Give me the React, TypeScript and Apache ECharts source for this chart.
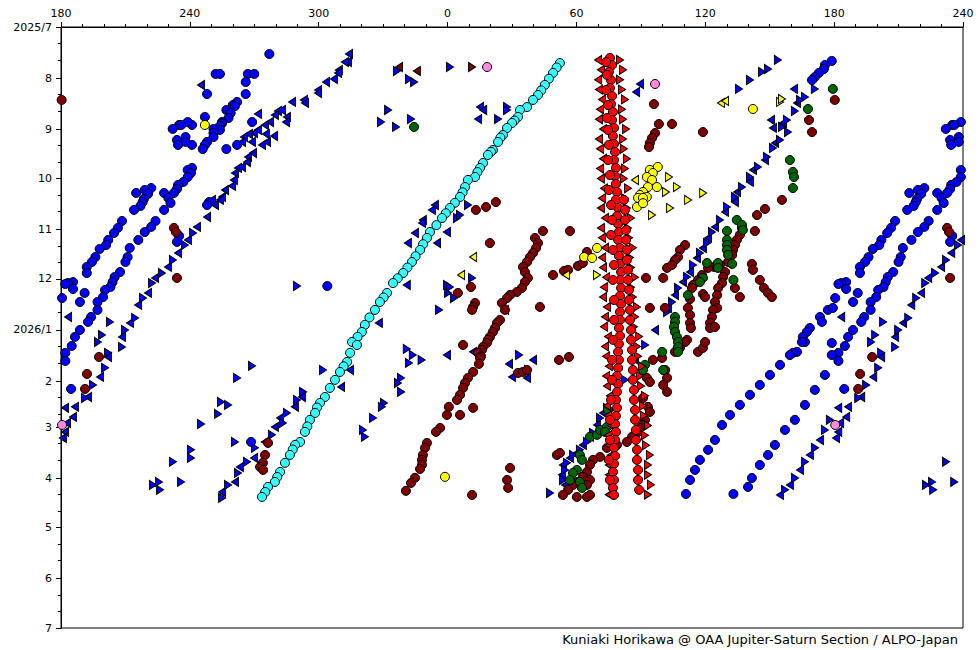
import React, { useEffect, useRef } from "react";
import * as echarts from "echarts";

// ---- axis definitions ----
const monthStarts = [0, 31, 62, 92, 123, 153, 184, 215, 243, 274, 304, 335, 365];
const monthLabels = ["2025/7", "8", "9", "10", "11", "12", "2026/1", "2", "3", "4", "5", "6", "7"];
const minorDays = [10, 20, 41, 51, 72, 82, 102, 112, 133, 143, 163, 173, 194, 204, 225, 235, 253, 263, 284, 294, 314, 324, 345, 355];

// ---- data: [System II longitude (deg), days since 2025-07-01] ----
const blueCircles = [
  [277,16.4],[252,28.5],[254,28.5],[267,28.5],[270,28.5],[266,33.4],[248,40.7],[266,40.7],[262,45.5],[260,47.4],[261,48],[257,50.4],[259,52.2],[258,55.3],[255,57.7],[255,58.5],[254,60.1],[254,62.5],[251,61.9],[251,64.4],[251,66.8],[248,69.8],[247,71.7],[246,74.1],[247,54.6],[241,59.5],[239,57.7],[235,59.5],[236,59.5],[232,61.9],[238,66.8],[234,68.6],[238,69.8],[234.5,71.6],[241,71.6],[269,57.7],[262,71.6],[257,74.1],
  [241,85.6],[239,86.8],[240.5,88.7],[239,91.1],[237,94.1],[234.5,95.9],[234,98.4],[232.6,100.8],[228,100.8],[222,97.8],[219,99],[220.5,101.4],[215,100.8],[218.6,104.4],
  [230,103.8],[231,106.9],[228,111.1],[218,106.3],[217,108.7],[214,111.1],[224,117.8],[222,121.4],[219,124.5],[216,129.3],
  [212,134.2],[211,139.7],[210,142.7],[207.5,148.8],[205,151.8],[204,154.9],[203,157.9],[200.5,159.7],[199.6,164],[197,167],[197,171.8],[194,176.1],[192.6,179.1],
  [208.4,117.8],[206.5,122],[204.7,125.1],[202,129.3],[201,132.4],[198,134.8],[196,139.7],[194.4,142.7],[192,145.7],[192,149.4],[185.6,154.9],[183.3,155.5],[182,156.1],[185.6,159.1],[180.5,164.6],[191,161.5],[188.8,167],
  [249,106.3],[248,108.1],[235,126.9],[234,130.5],[304,157.3],
  [182,197.9],[182,202.8],[185,193.7],[184.7,219.8],[268.5,252],[186.5,188.2],[188.8,184],
  [178.9,20.6],[175.7,23.1],[175.2,25.5],[172.9,27.9],[171,30.4],[169.7,32.2],
  [177.1,171.8],[179.4,170.6],[173.4,176.1],[174.3,179.1],[168.7,182.8],[167.3,185.2],[165.4,188.2],[166.4,191.3],[165,191.3],[162.7,197.3],[160.8,197.9],[159.4,199.2],[178.9,191.9],[178.9,199.2],
  [154.8,205.2],[150.1,211.3],[145.4,217.4],[140.8,223.4],[136.1,229.5],[131.5,235.6],[127.8,241.7],[124.5,250.8],[121.3,256.8],[117.5,262.9],[115.2,269],[112.9,275.1],[111,283.6],
  [175.7,211.3],[171,220.4],[166.4,229.5],[161.7,238.6],[157.1,244.7],[152.4,253.8],[149.2,259.9],[145.4,266],[141.7,273.9],[139.9,279.3],[133.1,283.6],
];

const blueTriLeft = [
  [245.2,35.2],[314.1,16.4],[313.6,21.3],[312.2,21.3],[309.4,26.1],[309,27.9],[307.1,31.6],[303.4,33.4],[299.7,38.3],[299.7,40.1],[293.1,44.3],[293.6,46.1],[287.6,45.5],[285.2,54.6],[284.8,57.7],[282.9,50.4],[281,51],[279.6,53.4],[277.3,57.7],[275,59.5],[271.7,52.8],[271.7,62.5],[269.9,64.4],[267.5,65],[265.2,66.8],[264.3,69.8],[279.2,66.2],[275.9,69.8],[273.6,71.6],[275.4,65],[268.9,69.8],[269.4,76.5],[267.1,78.9],[266.6,82],[264.3,85],[262.4,85.6],[261,88.7],[260.5,92.9],[259.6,96.5],[256.4,99],[255,103.2],[250.3,105],
  [254,105],[251.7,108.1],[248,115.4],[243.3,121.4],[239.1,129.3],[234.5,137.2],[229.8,145.7],[223.8,152.4],[220.5,161.5],[215.9,168.8],[212.1,179.7],[208.4,188.2],
  [183.3,176.1],[201.9,200.4],[198.2,212.5],[192.6,224.7],[186.5,230.7],[181.9,231.3],[185.6,236.8],[182.8,240.5],[181.9,245.9],[180.9,249.6],
  [354.1,108.1],[352.7,111.1],[348.5,117.2],[348.1,119],[344.8,125.1],[341.5,131.2],[355.1,131.2],[359.7,124.5],[341,156.7],[328,179.7],[26.8,171.8],[359.7,199.2],[11.9,197.3],[28.6,204.6],[30,212.5],[39.8,202.2],[37,213.1],[314.6,208.3],[310.4,218.6],[15.1,48.6],[16.6,50.4],[14.2,55.9],[89.6,34.6],[87.8,39.5],
  [292.2,224.7],[288.9,230.7],[282,237.4],[279.6,242.9],[274.9,252],[269.9,261.7],[263.3,267.2],[261,276.3],[255,282.4],
  [161.3,37.6],[150.6,56.5],[151.5,61.3],[162.7,46.1],[156.2,58.3],[152.5,70.4],[147.8,80.8],[142.2,86.8],[140.8,94.1],[134.8,100.2],
  [133.8,106.3],[129.2,112.3],[124.5,121.4],[121.3,128.1],[118.9,134.2],[116.1,140.3],[112.9,148.8],[109.6,154.9],[105.9,162.8],[102.6,170.6],[96.6,184],[87.3,202.2],[78,223.4],[72.4,234.4],[69.6,241.7],[66.3,248.9],[63,253.8],[60.2,258.7],[57,261.7],[53.7,266],[53.3,272],[54.7,278.1],
  [173.4,250.8],[168.7,259.9],[164.1,269],[159.4,278.1],[154.8,284.2],
];

const blueTriRight = [
  [241.5,125.1],[237.7,132.4],[232.1,141.5],[227,149.4],[222.4,155.5],[218.2,164.6],[214.5,176.7],[209.8,184],[208.4,194.3],[202.8,179.1],[199.1,187],[197.2,191.3],[201.9,197.9],[200.5,207],[194.9,217.4],[191.2,225.3],
  [336.4,26.7],[1.1,24.3],[342,31.6],[344.4,33.4],[332.3,50.4],[329,57.7],[336,60.7],[343,55.9],[27.7,48.6],[27.7,50.4],[23.5,55.9],[289.9,157.3],[4.4,116],[5.8,114.2],[9.5,108.1],[359.7,156.7],[1.1,157.9],[0.2,161.5],[3,164.6],[11.4,152.4],[356,171.8],[33.3,199.2],[37.4,208.3],[341,195.5],[343.8,199.2],[347.9,202.2],[342,204],[338.3,213.1],[336.9,216.2],[338.3,221.6],[330.4,228.3],[329.4,230.7],[325.3,237.4],[320.6,244.7],[321.5,248.9],[302,208.3],
  [268.9,205.8],[262,213.1],[254.5,227.7],[257.8,229.5],[253.1,235],[245.2,241.1],[240.5,256.8],[240.5,261.7],[232.1,264.1],[222.8,278.1],[225.6,276.3],[226.1,281.1],[235.9,276.3],[261,252],
  [292.7,221.6],[289.9,226.5],[285.2,234.4],[283.3,240.5],[278.2,247.7],[270.3,255.6],[266.6,264.1],[262.4,270.8],[257.8,278.1],[255,286],
  [153.8,20],[149.2,25.5],[146.4,27.3],[140.8,32.2],[135.7,37.6],[171,37.6],[166.4,42.5],[164.1,44.3],[161.7,51],[158,56.5],[155.7,60.7],[158.5,63.8],[154.8,68.6],[151.5,73.5],[148.7,78.9],[144.5,85],[140.8,91.1],[137.1,97.2],[133.8,103.2],
  [130.1,109.3],[126.8,117.2],[123.1,124.5],[120.8,131.2],[117.5,137.2],[114.3,144.6],[111.5,151.8],[107.3,158.5],[104.5,167],[102.2,173.1],[92,193.1],[82.6,214.3],[74.2,231.3],[71,237.4],[67.7,246.5],[64.9,252],[61.6,256.8],[58.4,259.9],[55.6,264.7],[54.7,269],[53.7,275.1],[47.7,283],
  [178,238.6],[175.7,244.7],[171.1,255.6],[166.4,264.1],[161.8,273.9],[157.1,281.1],
];

const cyanCircles = [
  [52.3,21.9],[50.8,24.6],[49.1,27.9],[47.2,31.4],[45.3,35.2],[43.6,38.5],[42.1,41.3],[39.8,44.3],[37,48.6],[33.7,50.4],[32.8,54.6],[31.2,56.8],[30,58.3],[27.7,61.3],[25.8,65.6],[24.6,67.2],[23.5,69.8],[21.1,74.7],[20.2,75.8],[18.8,77.7],[16.5,82.6],[15.1,85.6],[13.9,88.1],[12.8,91.1],[9.5,92.9],[8.1,97.2],[7.0,100.4],[5.8,103.2],
  [3.4,106.8],[1.1,109.9],[359.2,113.1],[357.4,116],[354.8,120.3],[351.8,124.5],[350.4,128.1],[348.6,131.9],[347.2,135.4],[345.1,139.2],[343.4,142.7],[341.3,146.1],[339.3,149.4],[336.8,152.6],[334.6,155.5],[331.8,161.5],[330.2,164.3],[328.5,167],[326.2,171.8],[323.6,176.4],[321.5,180.9],[320.1,185.2],[318.1,188.2],[315.5,191.3],[317.8,193.1],
  [314.6,197.9],[313.2,203.4],[311.6,206.1],[309.9,209.5],[307.6,214.3],[305.2,219.2],[302.9,224.7],[300.6,228.3],[299.2,231.1],[298.3,234.4],[295.9,238.6],[294.7,242.6],[293.6,245.9],[291.3,252],[289,253.8],[287.9,256.6],[286.6,259.9],[284.3,264.7],[282,270.2],[280.7,273.3],[279.6,276.3],[276.4,279.3],[275.1,282.4],[273.6,285.4],
];

const maroonCircles = [
  [180.3,44.3],[232.6,122],[233.5,124.5],[234,152.4],[197.7,200.4],[192.1,210.7],[191.2,219.8],[276.4,252.6],[275,259.9],[274,264.7],[272.7,267.2],[274.1,269],
  [22.5,106.3],[17.9,109.3],[13.2,111.1],[19.7,131.2],[44.4,123.9],[57,123.9],
  [40.7,128.1],[42.1,131.2],[41.2,134.2],[39.8,137.2],[38.4,139.7],[37,142.7],[35.1,145.7],[36,148.8],[37.4,152.4],[36,154.9],[34.6,158.5],[32.3,160.9],[29.1,162.7],[27.7,164.6],[25.3,167.6],[26.7,171.8],
  [10.9,157.9],[4.8,161.5],[12.8,167.6],[11.9,170],[11.4,171.8],
  [24.4,177.9],[23,179.7],[22.1,182.8],[21.1,185.2],[19.7,188.2],[18.8,190],[18.3,191.9],[16.5,194.3],[16,196.1],[14.2,197.9],[7.2,193.1],[43,170],
  [49.1,150.6],[54.2,148.2],[56.1,147.5],[60.7,145.1],[63,143.3],[64.9,136.6],
  [15.6,200],[15.1,201],[14.6,204.6],[11.9,209.5],[9.5,213.1],[8.1,216.2],[7.2,219.2],[5.8,223.4],[4.4,226.5],[0.6,230.7],[359.7,235.6],[5.8,235.6],[11.9,231.3],[356.5,243.5],[354.6,245.9],[350.4,252.6],[349.5,255.6],[348.5,259.9],[348.1,262.9],[348.1,265.9],[347.2,268.4],[344.8,273.8],[343,276.9],[340.6,281.7],[11.4,284.2],[29.1,267.8],[27.7,275.1],[28.2,279.9],[51.9,202.2],[56.5,200.4],[32.8,210.1],[35.1,209.5],[37,208.3],
  [96.1,46.8],[98.4,58.9],[96.6,64.4],[95.2,67.4],[94.2,70.4],[93.8,72.9],[104.5,58.9],[118.9,63.8],[168.3,56.5],[169.7,63.8],
  [92.4,152.4],[100.4,152.4],[102.2,146.3],[94.2,170.6],[101.2,170.6],
  [110.6,132.4],[108.2,135.4],[107.3,139.7],[105.9,141.5],[104.5,144.5],
  [143.1,123.9],[144.1,114.2],[147.8,110.5],[155.7,105],
  [141.7,143.9],[142.2,147.5],[145.4,153.6],[147.3,158.5],[149.2,161.5],[151,164],[136.1,164],[133.8,158.5],
  [137.1,122],[136.1,126.3],[134.7,129.3],[133.8,132.4],[132.9,135.4],[132.5,138.4],[130.6,142.7],[129.2,148.8],[128.3,151.8],[127.8,155.5],[126,158.5],[125.5,162.8],[124.5,167],[125.5,170.6],[123.6,171.8],[123.1,176.1],[122.2,179.7],[122.2,182.8],[124.5,182.2],
  [126.8,144.5],[124.1,145.7],[121.3,146.3],[118.5,150.6],[116.6,153.6],[114.3,156.7],[113.8,158.5],[118.9,162.2],[119.9,164],[112.9,165.2],[111.9,170.6],[112.9,174.9],[112.9,179.7],[113.3,182.8],[111.5,190],[110.6,191.3],[108.2,194.9],[105.9,197.3],[116.6,197.3],[118.9,194.9],[119.9,191.3],
  [99.9,201],[95.6,202.2],[92.8,213.1],[94.2,215.6],[91,225.3],[93.3,230.7],[94.2,233.8],[91.9,238.6],[91,241.7],[89.6,243.5],[88.2,246.5],[85.9,248.9],[83.5,252],[78.9,253.8],[74.2,255.6],[71,261.1],[67.7,262.9],[66.3,265.9],[64.9,270.2],[63,273.2],[66.3,275.1],[64.9,278.1],[60.2,276.3],[58.4,278.1],[56.1,281.1],[53.7,284.2],[60.2,285.4],[64.9,285.4],[66.3,284.2],[101.3,208.3],[102.2,213.1],[102.2,221.6],[100.4,217.4],[50.9,259.9],[52.3,258.7],
];

const greenCircles = [
  [344.4,60.7],[179.4,37.6],[167.8,49.8],[159.4,80.8],[160.8,88],[161.3,91.1],[160.8,97.8],
  [134.7,117.2],[137.1,120.2],[137.5,123.3],[130.1,123.9],[130.1,129.3],[130.1,132.4],[130.1,135.4],[130.6,138.4],[132.5,143.9],[120.8,143.3],[125.9,143.3],[125.9,146.3],[118.9,152.4],[117.5,154.9],[133.1,153.6],[111.9,162.8],[105.9,176.1],[105.9,179.1],[105.4,182.2],[105.9,185.2],[106.8,188.2],[107.3,191.3],[107.3,194.3],[107.3,197.3],
  [66.3,248.9],[69.6,247.7],[71,244.7],[74.2,242.9],[74.7,232.6],[73.3,245.9],[61.6,259.9],[62.6,262.9],[60.2,269],[58.4,270.8],[57,275.1],[61.6,276.3],[62.6,279.9],[99.9,197.3],[100.4,208.3],[91.9,205.2],[91,208.3],
];

const yellowCircles = [
  [247,59.5],[142.2,49.8],[69.6,134.2],[63.6,139.7],[67.3,140.3],[358.8,273.2],[94.2,86.8],[97.9,85],[95.6,88.7],[92.8,91.1],[95.2,92.9],[97.5,97.2],[93.3,97.2],[91,100.2],[89.6,102],[88.7,103.8],[92.8,103.2],[91,103.8],[88.2,109.3],[91,107],
];
const yellowTriLeft = [[127.3,46.1],[129.2,44.9],[11.9,139.7],[6.3,150.6],[55.1,150.6],[87.3,92.9]];
const yellowTriRight = [[154.8,45.5],[155.7,43.7],[69.6,150.6],[95.2,114.2],[103.1,91.1],[106.8,97.2],[101.7,100.2],[119,100.8],[112,105],[103.6,109.9]];
const pinkCircles = [[18.4,24.3],[96.6,34.6],[180.5,241.7]];
const maroonTriLeft = [[337.4,24.3],[345.7,26.7]];
const maroonTriRight = [[11.4,24.3]];

const redCircles = [
  [75.6,18.8],[76.6,23.1],[75.1,27.3],[76.1,32.2],[75.6,37],[76.6,41.9],[76.1,46.8],[77,51.6],[76.6,56.5],[77.5,61.3],[77,66.2],[77.5,71],[78,75.9],[77.5,80.8],[78.4,85.6],[78,90.5],[78.4,95.3],[78.9,100.2],[78.4,105],[79.4,109.9],[78.9,114.8],[79.4,119.6],[79.8,124.5],[79.4,129.3],[80.3,134.2],[79.8,139],[80.3,143.9],[80.8,148.8],[80.3,153.6],[80.8,158.5],[80.3,163.3],[80.8,168.2],[80.3,173.1],[80.3,177.9],[79.8,182.8],[80.3,187.6],[79.8,192.5],[79.4,197.3],[79.8,202.2],[79.4,207.1],[78.9,211.9],[79.4,216.8],[78.9,221.6],[78.4,226.5],[78.9,231.3],[78.4,236.2],[78,241.1],[78.4,245.9],[78,250.8],[77.5,255.6],[78,260.5],[77.5,265.3],[77,270.2],[77.5,275.1],[77,279.9],[77.5,284.2],
  [73.8,21.3],[74.2,29.1],[73.8,38.3],[74.7,47.4],[74.2,55.3],[74.7,62.5],[75.1,71.6],[74.7,80.8],[75.6,89.9],[75.1,99],[76.1,108.1],[76.6,117.2],[76.1,126.3],[77,135.4],[77.5,144.5],[77,153.6],[77.5,165.8],[77.5,177.9],[77,190],[76.6,202.2],[76.6,214.3],[76.1,226.5],[75.6,238.6],[75.6,250.8],[75.1,262.9],[75.6,275.1],
  [82.1,105],[82.6,111.1],[82.6,117.2],[83.1,123.3],[83.1,129.3],[83.5,135.4],[83.5,141.5],[84,147.5],[84,153.6],[84.5,159.7],[84.5,165.8],[84.9,171.8],[84.9,177.9],[85.4,184],[85.4,190],[85.9,196.1],[85.9,202.2],[86.3,208.3],[86.3,214.3],[86.8,220.4],[86.8,226.5],[87.3,232.6],[87.3,238.6],[87.7,244.7],[87.7,250.8],[88.2,256.8],[88.2,262.9],[88.7,269],[88.7,275.1],[89.2,281.1],
];
const redTriLeft = [
  [70.1,20],[71.4,26],[70.1,32],[70.5,38],[71.9,44],[71,50],[70.5,56],[72.4,62],[70.5,68],[71,74],[72.4,80],[71,86],[71.4,92],[72.8,98],[71.9,104],[71.4,110],[73.3,116],[71.4,122],[71.9,128],[73.3,134],[71.9,140],[72.4,146],[73.8,152],[72.8,158],[72.4,164],[74.2,170],[73.3,176],[72.8,182],[74.7,188],[73.3,194],[73.8,200],[75.1,206],[73.8,212],[74.2,218],[75.6,224],[74.2,230],[74.7,236],[76.1,242],[74.7,248],[75.1,254],[76.1,260],[75.1,266],[75.1,272],[76.6,278],[75.1,284],
];
const redTriRight = [
  [80.3,20],[81.7,26],[80.3,32],[81.2,38],[82.6,44],[81.2,50],[81.7,56],[83.1,62],[81.7,68],[82.1,74],[83.5,80],[82.6,86],[82.1,92],[84,98],[82.6,104],[83.5,110],[85.4,116],[84,122],[84.5,128],[86.3,134],[84.9,140],[85.4,146],[87.3,152],[85.4,158],[86.3,164],[88.2,170],[87.3,176],[86.8,182],[89.2,188],[88.2,194],[88.7,200],[90.5,206],[89.6,212],[90.1,218],[91.9,224],[91,230],[91.4,236],[93.3,242],[91.9,248],[92.4,254],[94.2,260],[93.3,266],[93.3,272],[94.7,278],[93.3,284],
];

const CREDIT = "Kuniaki Horikawa @ OAA Jupiter-Saturn Section / ALPO-Japan";
const TRI_L = "path://M0,5L10,0L10,10Z";
const TRI_R = "path://M10,5L0,0L0,10Z";
const FONT = "DejaVu Sans";

// Longitude axis runs 180 -> 360/0 -> 240 (unwrapped 180..600); 180-240 shown twice.
function place(pts: number[][]) {
  const out: number[][] = [];
  for (const [lon, d] of pts) {
    out.push([lon < 180 ? lon + 360 : lon, d]);
    if (lon >= 180 && lon <= 240) out.push([lon + 360, d]);
  }
  return out;
}

function sc(name: string, data: number[][], symbol: string, color: string, size: any) {
  return {
    name,
    type: "scatter",
    data: place(data),
    symbol,
    symbolSize: size,
    itemStyle: { color, borderColor: "#000", borderWidth: 1, opacity: 1 },
    emphasis: { disabled: true },
    silent: true,
  };
}

export default function App() {
  const ref = useRef<HTMLDivElement>(null);
  useEffect(() => {
    if (!ref.current) return;
    const chart = echarts.init(ref.current, null, { renderer: "svg" });
    const black = { color: "#000", width: 1 };
    chart.setOption({
      animation: false,
      backgroundColor: "#fff",
      grid: { left: 61, top: 27, width: 902, height: 601, show: true, borderColor: "#000", borderWidth: 1, backgroundColor: "transparent" },
      xAxis: {
        type: "value",
        position: "top",
        min: 180,
        max: 600,
        interval: 60,
        axisLine: { show: true, lineStyle: black },
        axisTick: { show: true, length: 5, lineStyle: black },
        minorTick: { show: true, splitNumber: 6, length: 3, lineStyle: black },
        splitLine: { show: false },
        minorSplitLine: { show: false },
        axisLabel: { color: "#000", fontSize: 11, fontFamily: FONT, margin: 8, formatter: (v: number) => String(v % 360) },
      },
      yAxis: [
        {
          type: "value",
          inverse: true,
          min: 0,
          max: 365,
          axisLine: { show: true, lineStyle: black },
          axisTick: { show: true, length: 5, lineStyle: black, customValues: monthStarts },
          splitLine: { show: false },
          axisLabel: {
            color: "#000",
            fontSize: 11,
            fontFamily: FONT,
            margin: 9,
            customValues: monthStarts,
            formatter: (v: number) => monthLabels[monthStarts.indexOf(Math.round(v))] ?? "",
          },
        },
        {
          type: "value",
          inverse: true,
          min: 0,
          max: 365,
          position: "left",
          axisLine: { show: false },
          axisTick: { show: true, length: 3, lineStyle: black, customValues: minorDays },
          axisLabel: { show: false },
          splitLine: { show: false },
        },
      ],
      graphic: [
        { type: "text", right: 22, top: 633, style: { text: CREDIT, font: `13px "${FONT}"`, fill: "#000" } },
      ],
      series: [
        sc("blueTriLeft", blueTriLeft, TRI_L, "#0000ff", [7, 9]),
        sc("blueTriRight", blueTriRight, TRI_R, "#0000ff", [7, 9]),
        sc("blueCircles", blueCircles, "circle", "#0000ff", 9),
        sc("cyan", cyanCircles, "circle", "#33ffff", 9),
        sc("maroon", maroonCircles, "circle", "#800000", 9),
        sc("green", greenCircles, "circle", "#006400", 9),
        sc("yellow", yellowCircles, "circle", "#ffff00", 9),
        sc("yellowTriL", yellowTriLeft, TRI_L, "#ffff00", [7, 9]),
        sc("yellowTriR", yellowTriRight, TRI_R, "#ffff00", [7, 9]),
        sc("pink", pinkCircles, "circle", "#ff88dd", 9),
        sc("maroonTriL", maroonTriLeft, TRI_L, "#800000", [7, 9]),
        sc("maroonTriR", maroonTriRight, TRI_R, "#800000", [7, 9]),
        sc("redTriL", redTriLeft, TRI_L, "#ff0000", [7, 9]),
        sc("redTriR", redTriRight, TRI_R, "#ff0000", [7, 9]),
        sc("red", redCircles, "circle", "#ff0000", 9),
      ],
    });
    return () => chart.dispose();
  }, []);
  return <div ref={ref} style={{ position: "fixed", left: 0, top: 0, width: 980, height: 650, background: "#fff" }} />;
}
